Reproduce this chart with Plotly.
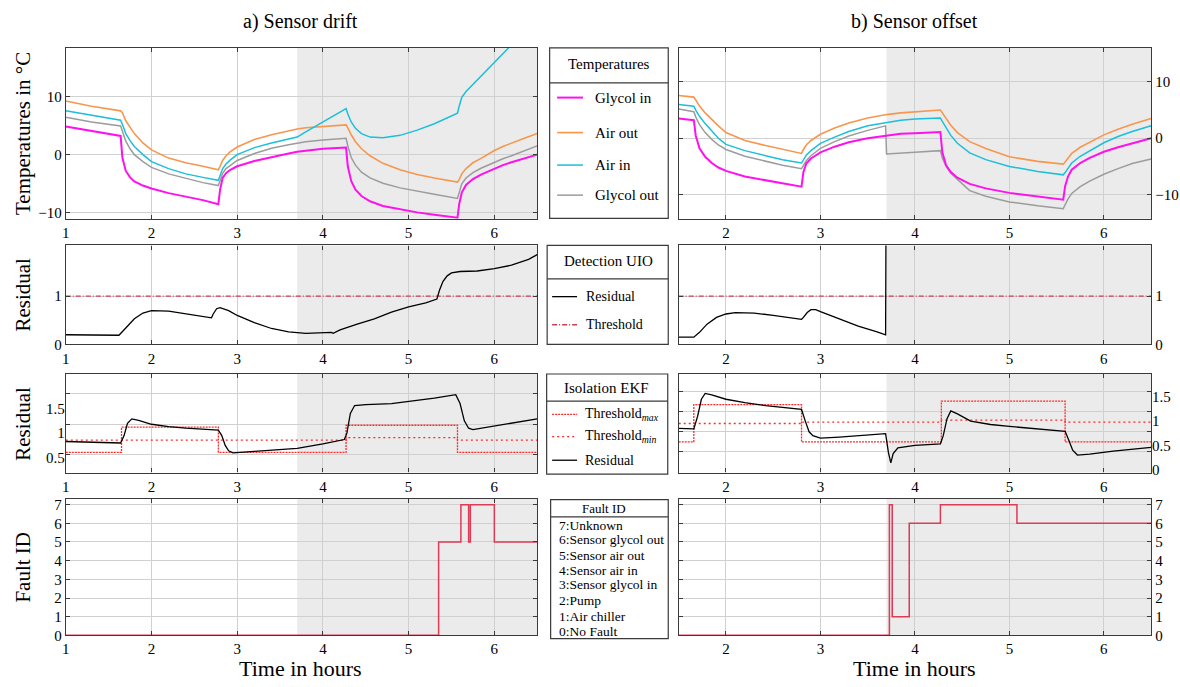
import plotly.graph_objects as go

# ---------------- DATA ----------------
FAULT_START = 3.7

# a) Sensor drift - temperatures
T_L = [1.0, 1.3, 1.64, 1.66, 1.7, 1.75, 1.8, 1.9, 2.0, 2.2, 2.4, 2.6, 2.78, 2.8, 2.83, 2.87, 2.92, 3.0,
       3.2, 3.4, 3.6, 3.7, 3.8, 4.0, 4.27, 4.29, 4.33, 4.38, 4.45, 4.55, 4.7, 4.9, 5.1, 5.3, 5.57,
       5.59, 5.62, 5.67, 5.75, 5.85, 6.0, 6.1, 6.2, 6.35, 6.5]
glycol_in_L = [4.8, 4.0, 3.2, -0.5, -2.8, -3.9, -4.6, -5.3, -5.8, -6.6, -7.2, -7.8, -8.5, -6.0, -4.0, -3.2,
               -2.6, -2.0, -1.1, -0.4, 0.2, 0.5, 0.7, 1.0, 1.2, -2.0, -4.5, -6.0, -7.1, -8.0, -8.8, -9.4,
               -9.9, -10.3, -10.8, -8.5, -6.5, -5.2, -4.2, -3.4, -2.4, -1.8, -1.3, -0.6, 0.0]
air_out_L = [9.2, 8.3, 7.5, 7.2, 5.8, 4.6, 3.6, 2.0, 0.8, -0.6, -1.4, -2.0, -2.6, -2.0, -1.0, -0.2, 0.5,
             1.3, 2.6, 3.4, 4.1, 4.4, 4.6, 4.8, 5.1, 4.6, 3.4, 2.2, 1.0, -0.2, -1.5, -2.6, -3.4, -4.0,
             -4.7, -4.3, -3.3, -2.4, -1.4, -0.6, 0.7, 1.4, 2.0, 2.8, 3.6]
air_in_L = [7.5, 6.7, 5.9, 5.2, 3.6, 2.4, 1.4, 0.0, -1.2, -2.4, -3.3, -3.9, -4.4, -3.6, -2.4, -1.6, -0.9,
            0.0, 1.2, 2.0, 2.7, 3.0, 3.9, 5.6, 7.9, 7.0, 5.6, 4.5, 3.6, 3.0, 2.9, 3.3, 4.2, 5.3, 7.1,
            8.3, 9.8, 10.8, 12.0, 13.6, 15.8, 17.3, 18.8, 20.5, 22.0]
glycol_out_L = [6.4, 5.6, 4.9, 4.0, 2.3, 1.0, 0.0, -1.2, -2.2, -3.3, -4.1, -4.8, -5.3, -4.3, -3.2, -2.4,
                -1.8, -1.0, 0.2, 1.1, 1.7, 2.0, 2.2, 2.5, 2.8, 1.5, -0.5, -1.8, -3.0, -4.0, -4.9, -5.7,
                -6.3, -6.8, -7.5, -6.5, -5.0, -4.0, -3.1, -2.3, -1.3, -0.7, -0.2, 0.7, 1.5]

# b) Sensor offset - temperatures
T_R = [1.5, 1.66, 1.68, 1.72, 1.78, 1.85, 1.92, 2.0, 2.2, 2.42, 2.6, 2.8, 2.82, 2.85, 2.9, 2.95, 3.0,
       3.15, 3.3, 3.5, 3.69, 3.7, 3.85, 4.0, 4.27, 4.29, 4.33, 4.38, 4.45, 4.58, 4.75, 5.0, 5.3, 5.57,
       5.59, 5.62, 5.66, 5.75, 5.85, 6.0, 6.15, 6.3, 6.5]
glycol_in_R = [3.5, 3.2, 0.5, -1.8, -3.3, -4.4, -5.2, -5.8, -6.8, -7.5, -8.0, -8.6, -6.0, -4.5, -3.6,
               -3.0, -2.5, -1.5, -0.7, 0.0, 0.5, 0.5, 0.8, 0.9, 1.1, -2.5, -4.8, -6.0, -7.0, -8.1, -8.9,
               -9.7, -10.4, -10.9, -8.5, -6.8, -5.6, -4.4, -3.5, -2.4, -1.6, -0.9, 0.0]
air_out_R = [7.6, 7.3, 6.8, 5.7, 4.5, 3.3, 2.2, 1.0, -0.4, -1.3, -2.0, -2.7, -2.0, -1.2, -0.4, 0.2, 0.7,
             1.8, 2.7, 3.6, 4.2, 4.2, 4.5, 4.7, 5.0, 4.5, 3.5, 2.3, 1.0, -0.6, -1.8, -3.3, -4.1, -4.6,
             -4.2, -3.5, -2.7, -1.6, -0.7, 0.6, 1.6, 2.5, 3.5]
air_in_R = [6.0, 5.7, 5.0, 3.9, 2.6, 1.2, 0.0, -1.1, -2.2, -3.1, -3.8, -4.4, -3.8, -3.0, -2.2, -1.5,
            -0.9, 0.2, 1.2, 2.2, 2.8, 2.8, 3.2, 3.4, 3.6, 3.0, 1.8, 0.5, -0.9, -2.6, -3.8, -5.0, -5.9,
            -6.5, -6.1, -5.3, -4.4, -3.2, -2.2, -0.8, 0.3, 1.2, 2.2]
glycol_out_R = [5.2, 4.7, 3.8, 2.4, 1.0, -0.2, -1.2, -2.0, -3.2, -4.1, -4.8, -5.4, -4.8, -4.0, -3.1,
                -2.4, -1.8, -0.6, 0.4, 1.4, 2.2, -2.8, -2.6, -2.5, -2.2, -3.5, -5.0, -6.2, -7.3, -9.3,
                -10.3, -11.3, -12.0, -12.5, -11.8, -10.8, -9.8, -8.6, -7.6, -6.4, -5.4, -4.5, -3.7]

# Detection UIO residuals
T_UIO_L = [1.0, 1.3, 1.62, 1.7, 1.8, 1.9, 2.0, 2.2, 2.4, 2.6, 2.7, 2.72, 2.76, 2.8, 2.9, 3.0, 3.2, 3.4,
           3.6, 3.8, 4.0, 4.1, 4.12, 4.2, 4.4, 4.6, 4.8, 5.0, 5.2, 5.33, 5.36, 5.4, 5.45, 5.5, 5.6, 5.8,
           6.0, 6.2, 6.4, 6.5]
res_UIO_L = [0.2, 0.19, 0.19, 0.34, 0.53, 0.65, 0.7, 0.69, 0.64, 0.59, 0.55, 0.63, 0.74, 0.76, 0.7, 0.6,
             0.45, 0.33, 0.26, 0.23, 0.24, 0.25, 0.23, 0.3, 0.42, 0.53, 0.67, 0.78, 0.86, 0.94, 1.12, 1.3,
             1.42, 1.48, 1.51, 1.52, 1.57, 1.64, 1.76, 1.86]
T_UIO_R = [1.5, 1.66, 1.72, 1.8, 1.9, 2.0, 2.1, 2.3, 2.5, 2.7, 2.8, 2.82, 2.86, 2.9, 2.95, 3.0, 3.2, 3.4,
           3.6, 3.69, 3.695, 6.5]
res_UIO_R = [0.15, 0.15, 0.25, 0.42, 0.56, 0.63, 0.66, 0.65, 0.6, 0.55, 0.52, 0.56, 0.66, 0.72, 0.72,
             0.68, 0.53, 0.38, 0.26, 0.2, 3.0, 3.0]
UIO_THRESHOLD = 1.0

# Isolation EKF
T_EKF_L = [1.0, 1.64, 1.68, 1.72, 1.77, 1.85, 2.0, 2.2, 2.4, 2.6, 2.78, 2.82, 2.86, 2.9, 2.95, 3.2, 3.5,
           3.7, 4.0, 4.25, 4.28, 4.32, 4.37, 4.5, 4.8, 5.0, 5.3, 5.55, 5.6, 5.65, 5.7, 5.75, 6.0, 6.3, 6.5]
res_EKF_L = [0.83, 0.8, 0.95, 1.2, 1.29, 1.26, 1.18, 1.13, 1.1, 1.08, 1.06, 0.95, 0.75, 0.64, 0.6, 0.63,
             0.66, 0.69, 0.78, 0.87, 1.0, 1.4, 1.56, 1.58, 1.6, 1.64, 1.71, 1.78, 1.6, 1.25, 1.1, 1.07,
             1.14, 1.23, 1.29]
T_THR_L = [1.0, 1.65, 2.78, 4.27, 5.57, 6.5]
thr_max_L = [0.61, 1.12, 0.61, 1.16, 0.61, 0.61]
thr_min_L = [0.86, 0.86, 0.86, 0.91, 0.86, 0.86]

T_EKF_R = [1.5, 1.66, 1.7, 1.74, 1.78, 1.85, 2.0, 2.2, 2.42, 2.6, 2.8, 2.84, 2.88, 2.92, 3.0, 3.2, 3.45,
           3.69, 3.72, 3.745, 3.77, 3.82, 4.0, 4.27, 4.3, 4.34, 4.38, 4.45, 4.59, 4.8, 5.0, 5.3, 5.59,
           5.63, 5.67, 5.72, 5.85, 6.1, 6.5]
res_EKF_R = [0.85, 0.84, 1.1, 1.45, 1.57, 1.54, 1.45, 1.38, 1.32, 1.28, 1.24, 1.0, 0.78, 0.7, 0.65, 0.67,
             0.7, 0.74, 0.35, 0.14, 0.33, 0.45, 0.5, 0.53, 0.7, 1.05, 1.21, 1.15, 1.0, 0.93, 0.89, 0.84,
             0.79, 0.6, 0.4, 0.3, 0.32, 0.38, 0.46]
T_THR_R = [1.5, 1.66, 2.8, 4.28, 5.59, 6.5]
thr_max_R = [0.57, 1.34, 0.57, 1.41, 0.57, 0.57]
thr_min_R = [0.95, 0.95, 0.98, 1.02, 0.98, 0.98]

# Fault ID
T_ID_L = [1.0, 5.35, 5.61, 5.70, 5.72, 6.0, 6.5]
fault_id_L = [0, 5, 7, 5, 7, 5, 5]
T_ID_R = [1.5, 3.73, 3.76, 3.94, 4.27, 5.08, 6.5]
fault_id_R = [0, 7, 1, 6, 7, 6, 6]
fault_labels = ["7:Unknown", "6:Sensor glycol out", "5:Sensor air out", "4:Sensor air in",
                "3:Sensor glycol in", "2:Pump", "1:Air chiller", "0:No Fault"]

# Tick labels
x_ticks_L = [1, 2, 3, 4, 5, 6]
x_ticks_R = [2, 3, 4, 5, 6]
temp_ticks = [-10, 0, 10]
uio_ticks = [0, 1]
ekf_ticks_L = [0.5, 1, 1.5]
ekf_ticks_R = [0, 0.5, 1, 1.5]
ekf_grid_L = [0.57, 1.18, 1.80]
ekf_grid_R = [0.38, 0.79, 1.20, 1.61]
id_ticks = [0, 1, 2, 3, 4, 5, 6, 7]

# ---------------- STYLE ----------------
W, H = 1180, 687
FONT = "Liberation Serif, Times New Roman, serif"
C_GIN = "#FF10EE"
C_AOUT = "#F7964C"
C_AIN = "#1CBFDA"
C_GOUT = "#9C9C9C"
C_THR = "#D23A55"
C_RED = "#FF2A2A"
C_ID = "#DC3A55"
SHADE = "#EBEBEB"
GRID = "#D0D0D0"
AXC = "#3A3A3A"


def fx(px):
    return px / W


def fy(py):
    return 1 - py / H


XL = [fx(62), fx(535)]
XR = [fx(677), fx(1151)]
ROWS = [[fy(220), fy(46.5)], [fy(347.5), fy(247)], [fy(477.5), fy(377.5)], [fy(642.7), fy(504)]]
EKF_RANGE_L = [0.2, 2.2]
EKF_RANGE_R = [-0.06, 1.97]

fig = go.Figure()


def add(x, y, ax, color, width=1.4, dash=None, shape="linear"):
    xa, ya = ax
    fig.add_trace(go.Scatter(x=x, y=y, mode="lines", xaxis=xa, yaxis=ya, showlegend=False,
                             hoverinfo="skip",
                             line=dict(color=color, width=width, dash=dash, shape=shape)))


# Row 1
for T, gi, ao, ai, go_, ax in [(T_L, glycol_in_L, air_out_L, air_in_L, glycol_out_L, ("x", "y")),
                               (T_R, glycol_in_R, air_out_R, air_in_R, glycol_out_R, ("x2", "y2"))]:
    add(T, go_, ax, C_GOUT, 1.5)
    add(T, ao, ax, C_AOUT, 1.6)
    add(T, ai, ax, C_AIN, 1.5)
    add(T, gi, ax, C_GIN, 2.0)

# Row 2
add([T_UIO_L[0], T_UIO_L[-1]], [UIO_THRESHOLD, UIO_THRESHOLD], ("x3", "y3"), C_THR, 1.3, "5px,2px,1px,2px")
add(T_UIO_L, res_UIO_L, ("x3", "y3"), "black", 1.3)
add([T_UIO_R[0], T_UIO_R[-1]], [UIO_THRESHOLD, UIO_THRESHOLD], ("x4", "y4"), C_THR, 1.3, "5px,2px,1px,2px")
add(T_UIO_R, res_UIO_R, ("x4", "y4"), "black", 1.3)

# Row 3
add(T_THR_L, thr_min_L, ("x5", "y5"), C_RED, 1.3, "2px,3px", "hv")
add(T_THR_L, thr_max_L, ("x5", "y5"), C_RED, 1.3, "2px,1px", "hv")
add(T_EKF_L, res_EKF_L, ("x5", "y5"), "black", 1.3)
add(T_THR_R, thr_min_R, ("x6", "y6"), C_RED, 1.3, "2px,3px", "hv")
add(T_THR_R, thr_max_R, ("x6", "y6"), C_RED, 1.3, "2px,1px", "hv")
add(T_EKF_R, res_EKF_R, ("x6", "y6"), "black", 1.3)

# Row 4
add(T_ID_L, fault_id_L, ("x7", "y7"), C_ID, 1.5, None, "hv")
add(T_ID_R, fault_id_R, ("x8", "y8"), C_ID, 1.5, None, "hv")

# invisible helper traces so the label axes of row 3 exist
fig.add_trace(go.Scatter(x=[T_EKF_L[0]], y=[res_EKF_L[0]], xaxis="x5", yaxis="y9", mode="lines",
                         showlegend=False, hoverinfo="skip", line=dict(width=0)))
fig.add_trace(go.Scatter(x=[T_EKF_R[0]], y=[res_EKF_R[0]], xaxis="x6", yaxis="y10", mode="lines",
                         showlegend=False, hoverinfo="skip", line=dict(width=0)))

axbase = dict(showline=True, linecolor=AXC, linewidth=1.2, mirror="ticks", ticks="inside", ticklen=4,
              tickcolor=AXC, gridcolor=GRID, gridwidth=1, zeroline=False, fixedrange=True,
              tickfont=dict(family=FONT, size=15, color="black"))

layout = dict(width=W, height=H, margin=dict(l=0, r=0, t=0, b=0), paper_bgcolor="white",
              plot_bgcolor="white", showlegend=False, font=dict(family=FONT, color="black"))

yranges = [([-11, 18.3], [-14.3, 16.05], temp_ticks, temp_ticks),
           ([0, 2.05], [0, 2.05], uio_ticks, uio_ticks),
           (EKF_RANGE_L, EKF_RANGE_R, ekf_grid_L, ekf_grid_R),
           ([0, 7.32], [0, 7.32], id_ticks, id_ticks)]

for r in range(4):
    nl = 2 * r + 1
    nr = 2 * r + 2
    for n, dom, xr, xt, side in [(nl, XL, [1, 6.5], x_ticks_L, "left"), (nr, XR, [1.5, 6.5], x_ticks_R, "right")]:
        xs = "" if n == 1 else str(n)
        layout["xaxis" + xs] = dict(axbase, domain=dom, range=xr, tickvals=xt, anchor="y" + xs, showgrid=True)
        yr = yranges[r][0] if side == "left" else yranges[r][1]
        yt = yranges[r][2] if side == "left" else yranges[r][3]
        ycfg = dict(axbase, domain=ROWS[r], range=yr, tickvals=yt, anchor="x" + xs, side=side, showgrid=True)
        if r == 2:
            ycfg["showticklabels"] = False
        layout["yaxis" + xs] = ycfg

# overlay label axes for row 3 (labels sit offset from the grid, as in the original)
lab_base = dict(ticks="", showgrid=False, showline=False, zeroline=False, fixedrange=True,
                tickfont=dict(family=FONT, size=15, color="black"), domain=ROWS[2])
layout["yaxis9"] = dict(lab_base, overlaying="y5", anchor="x5", side="left", range=EKF_RANGE_L,
                        tickvals=ekf_ticks_L, ticktext=[str(v) for v in ekf_ticks_L])
layout["yaxis10"] = dict(lab_base, overlaying="y6", anchor="x6", side="right", range=EKF_RANGE_R,
                         tickvals=ekf_ticks_R, ticktext=[str(v) for v in ekf_ticks_R])

shapes = []
for n in range(1, 9):
    xs = "" if n == 1 else str(n)
    shapes.append(dict(type="rect", xref="x" + xs, yref="y" + xs + " domain", x0=FAULT_START, x1=6.5,
                       y0=0, y1=1, fillcolor=SHADE, line=dict(width=0), layer="below"))

annotations = []


def text(s, x, y, size, xanchor="center", angle=0):
    annotations.append(dict(text=s, x=fx(x), y=fy(y), xref="paper", yref="paper", showarrow=False,
                            xanchor=xanchor, yanchor="middle", textangle=angle,
                            font=dict(family=FONT, size=size, color="black")))


def box(x0, y0, x1, y1, ysep):
    shapes.append(dict(type="rect", xref="paper", yref="paper", x0=fx(x0), x1=fx(x1), y0=fy(y1), y1=fy(y0),
                       line=dict(color=AXC, width=1.2), fillcolor="white", layer="above"))
    shapes.append(dict(type="line", xref="paper", yref="paper", x0=fx(x0), x1=fx(x1), y0=fy(ysep), y1=fy(ysep),
                       line=dict(color=AXC, width=1.2), layer="above"))


def sample(x0, x1, y, color, width, dash=None):
    shapes.append(dict(type="line", xref="paper", yref="paper", x0=fx(x0), x1=fx(x1), y0=fy(y), y1=fy(y),
                       line=dict(color=color, width=width, dash=dash), layer="above"))


# Titles & axis labels
text("a) Sensor drift", 298, 20, 20)
text("b) Sensor offset", 914, 20, 20)
text("Temperatures in °C", 19, 133, 21, angle=-90)
text("Residual", 19, 297, 21, angle=-90)
text("Residual", 19, 428, 21, angle=-90)
text("Fault ID", 19, 573, 21, angle=-90)
text("Time in hours", 298, 676, 22)
text("Time in hours", 914, 676, 22)

# Legend: Temperatures
box(547.5, 46.5, 666.5, 219.5, 82)
text("Temperatures", 607, 63, 15)
for (name, col, wdt), yy in zip([("Glycol in", C_GIN, 2.0), ("Air out", C_AOUT, 1.6),
                                 ("Air in", C_AIN, 1.5), ("Glycol out", C_GOUT, 1.5)],
                                [97, 132.5, 165.5, 196]):
    sample(555, 581, yy, col, wdt)
    text(name, 591, yy, 15, xanchor="left")

# Legend: Detection UIO
box(545, 247, 666.5, 347.5, 281)
text("Detection UIO", 607, 263, 15)
sample(550, 575, 299, "black", 1.3)
text("Residual", 582, 299, 14, xanchor="left")
sample(550, 575, 327.5, C_THR, 1.3, "5px,2px,1px,2px")
text("Threshold", 582, 327.5, 14, xanchor="left")

# Legend: Isolation EKF
box(544.5, 377.5, 666, 479, 405)
text("Isolation EKF", 605, 392, 15)
sample(550, 575, 418.5, C_RED, 1.3, "2px,1px")
text("Threshold<sub><i>max</i></sub>", 581, 418.5, 14, xanchor="left")
sample(550, 575, 441, C_RED, 1.3, "2px,3px")
text("Threshold<sub><i>min</i></sub>", 581, 441, 14, xanchor="left")
sample(550, 575, 465, "black", 1.3)
text("Residual", 581, 465, 14, xanchor="left")

# Legend: Fault ID
box(548.5, 505, 666.5, 646, 522.5)
text("Fault ID", 602, 514, 13)
for lab, yy in zip(fault_labels, [531.5, 545.5, 561.5, 576.5, 591, 607.5, 624, 639]):
    text(lab, 554.5, yy, 13.5, xanchor="left")

layout["shapes"] = shapes
layout["annotations"] = annotations
fig.update_layout(**layout)
fig.write_html("out.html")
